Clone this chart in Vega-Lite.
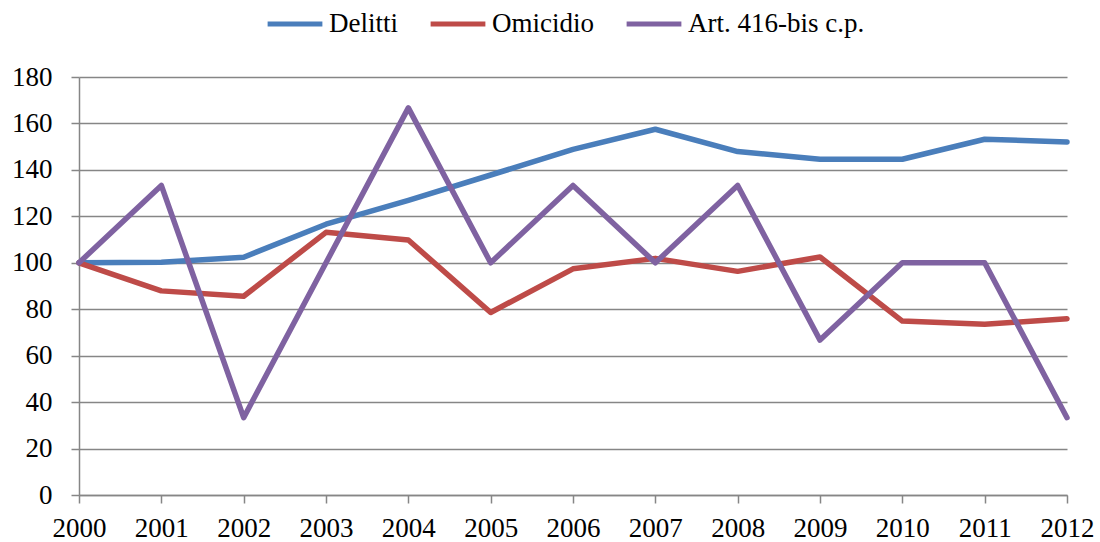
{
  "$schema": "https://vega.github.io/schema/vega-lite/v6.json",
  "autosize": "none",
  "width": 988,
  "height": 418,
  "padding": {"left": 79, "top": 77, "right": 33, "bottom": 47},
  "background": "white",
  "config": {
    "font": "Liberation Serif",
    "view": {"stroke": null}
  },
  "data": {
    "values": [
      {"anno": "2000", "serie": "Delitti", "valore": 100},
      {"anno": "2001", "serie": "Delitti", "valore": 100.2},
      {"anno": "2002", "serie": "Delitti", "valore": 102.4},
      {"anno": "2003", "serie": "Delitti", "valore": 116.6},
      {"anno": "2004", "serie": "Delitti", "valore": 126.9},
      {"anno": "2005", "serie": "Delitti", "valore": 137.8},
      {"anno": "2006", "serie": "Delitti", "valore": 148.8},
      {"anno": "2007", "serie": "Delitti", "valore": 157.5},
      {"anno": "2008", "serie": "Delitti", "valore": 147.9},
      {"anno": "2009", "serie": "Delitti", "valore": 144.6},
      {"anno": "2010", "serie": "Delitti", "valore": 144.6},
      {"anno": "2011", "serie": "Delitti", "valore": 153.2},
      {"anno": "2012", "serie": "Delitti", "valore": 152},
      {"anno": "2000", "serie": "Omicidio", "valore": 100},
      {"anno": "2001", "serie": "Omicidio", "valore": 87.9},
      {"anno": "2002", "serie": "Omicidio", "valore": 85.6},
      {"anno": "2003", "serie": "Omicidio", "valore": 113.1},
      {"anno": "2004", "serie": "Omicidio", "valore": 109.8},
      {"anno": "2005", "serie": "Omicidio", "valore": 78.6},
      {"anno": "2006", "serie": "Omicidio", "valore": 97.4},
      {"anno": "2007", "serie": "Omicidio", "valore": 101.9},
      {"anno": "2008", "serie": "Omicidio", "valore": 96.3},
      {"anno": "2009", "serie": "Omicidio", "valore": 102.5},
      {"anno": "2010", "serie": "Omicidio", "valore": 74.9},
      {"anno": "2011", "serie": "Omicidio", "valore": 73.5},
      {"anno": "2012", "serie": "Omicidio", "valore": 75.9},
      {"anno": "2000", "serie": "Art. 416-bis c.p.", "valore": 100},
      {"anno": "2001", "serie": "Art. 416-bis c.p.", "valore": 133.3},
      {"anno": "2002", "serie": "Art. 416-bis c.p.", "valore": 33.3},
      {"anno": "2003", "serie": "Art. 416-bis c.p.", "valore": 100},
      {"anno": "2004", "serie": "Art. 416-bis c.p.", "valore": 166.7},
      {"anno": "2005", "serie": "Art. 416-bis c.p.", "valore": 100},
      {"anno": "2006", "serie": "Art. 416-bis c.p.", "valore": 133.3},
      {"anno": "2007", "serie": "Art. 416-bis c.p.", "valore": 100},
      {"anno": "2008", "serie": "Art. 416-bis c.p.", "valore": 133.3},
      {"anno": "2009", "serie": "Art. 416-bis c.p.", "valore": 66.7},
      {"anno": "2010", "serie": "Art. 416-bis c.p.", "valore": 100},
      {"anno": "2011", "serie": "Art. 416-bis c.p.", "valore": 100},
      {"anno": "2012", "serie": "Art. 416-bis c.p.", "valore": 33.3}
    ]
  },
  "mark": {"type": "line", "strokeWidth": 5.5, "strokeCap": "round", "strokeJoin": "round"},
  "encoding": {
    "x": {
      "field": "anno",
      "type": "ordinal",
      "scale": {"type": "point", "padding": 0},
      "axis": {
        "title": null,
        "labelAngle": 0,
        "labelFont": "Liberation Serif",
        "labelFontSize": 27,
        "labelColor": "black",
        "labelPadding": 12,
        "tickSize": 8,
        "tickColor": "#868686",
        "tickWidth": 1.5,
        "domainColor": "#868686",
        "domainWidth": 1.5,
        "grid": false
      }
    },
    "y": {
      "field": "valore",
      "type": "quantitative",
      "scale": {"domain": [0, 180], "nice": false},
      "axis": {
        "title": null,
        "values": [0, 20, 40, 60, 80, 100, 120, 140, 160, 180],
        "labelFont": "Liberation Serif",
        "labelFontSize": 27,
        "labelColor": "black",
        "labelPadding": 19,
        "tickSize": 8,
        "tickColor": "#868686",
        "tickWidth": 1.5,
        "domainColor": "#868686",
        "domainWidth": 1.5,
        "grid": true,
        "gridColor": "#868686",
        "gridWidth": 1.5
      }
    },
    "color": {
      "field": "serie",
      "type": "nominal",
      "sort": ["Delitti", "Omicidio", "Art. 416-bis c.p."],
      "scale": {
        "domain": ["Delitti", "Omicidio", "Art. 416-bis c.p."],
        "range": ["#4A7EBB", "#BE4B48", "#7F62A1"]
      },
      "legend": {
        "title": null,
        "orient": "none",
        "direction": "horizontal",
        "legendX": 186,
        "legendY": -83,
        "symbolType": "stroke",
        "symbolSize": 3000,
        "symbolStrokeWidth": 5,
        "labelFont": "Liberation Serif",
        "labelFontSize": 27,
        "labelColor": "black",
        "labelLimit": 0,
        "labelOffset": 4,
        "columnPadding": 22,
        "symbolOffset": 0
      }
    }
  }
}
